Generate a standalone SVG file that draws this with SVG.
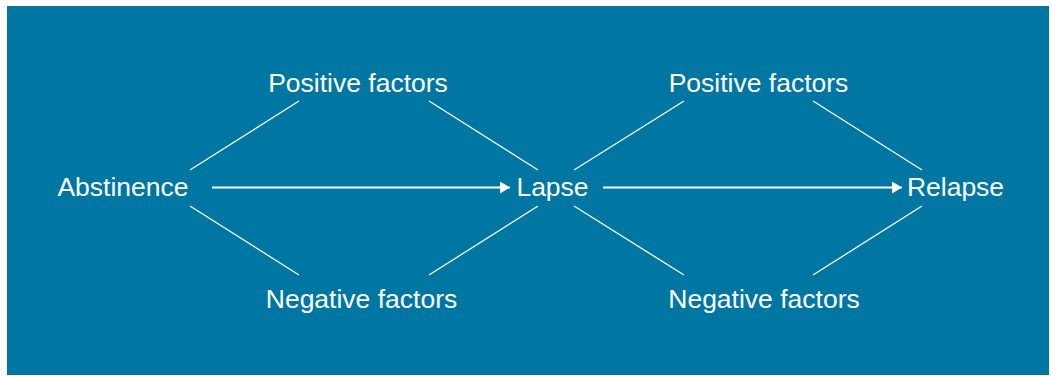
<svg xmlns="http://www.w3.org/2000/svg" width="1052" height="376" viewBox="0 0 1052 376">
<style>
.lbl{font-family:"Liberation Sans",Arial,Helvetica,sans-serif;font-size:26.5px;fill:#ffffff;text-anchor:middle}
.ln{stroke:#ffffff;stroke-width:1.3;fill:none}
.ar{stroke:#ffffff;stroke-width:2.2;fill:none}
</style>
<defs>
<marker id="ah" viewBox="0 0 10 12" refX="10" refY="6" markerWidth="10" markerHeight="12" markerUnits="userSpaceOnUse" orient="auto">
<path d="M0,0 L10,6 L0,12 Z" fill="#ffffff"/>
</marker>
</defs>
<rect x="0" y="0" width="1052" height="376" fill="#ffffff"/>
<rect x="7" y="6" width="1042" height="369" fill="#0076a3"/>
<g id="connectors">
<line class="ar" x1="212" y1="187.5" x2="510" y2="187.5" marker-end="url(#ah)"/>
<line class="ar" x1="603" y1="187.5" x2="902" y2="187.5" marker-end="url(#ah)"/>
<line class="ln" x1="190" y1="170" x2="299" y2="101"/>
<line class="ln" x1="429" y1="101" x2="538" y2="170"/>
<line class="ln" x1="190" y1="206" x2="299" y2="275"/>
<line class="ln" x1="429" y1="275" x2="538" y2="206"/>
<line class="ln" x1="574" y1="170" x2="684" y2="101"/>
<line class="ln" x1="813" y1="101" x2="922" y2="170"/>
<line class="ln" x1="574" y1="206" x2="684" y2="275"/>
<line class="ln" x1="813" y1="275" x2="922" y2="206"/>
</g>
<g id="abstinence"><text class="lbl" x="123" y="196">Abstinence</text></g>
<g id="lapse"><text class="lbl" x="552.5" y="196">Lapse</text></g>
<g id="relapse"><text class="lbl" x="955.5" y="196">Relapse</text></g>
<g id="positive1"><text class="lbl" x="358" y="92">Positive factors</text></g>
<g id="negative1"><text class="lbl" x="361.5" y="308">Negative factors</text></g>
<g id="positive2"><text class="lbl" x="758.5" y="92">Positive factors</text></g>
<g id="negative2"><text class="lbl" x="764" y="308">Negative factors</text></g>
</svg>
